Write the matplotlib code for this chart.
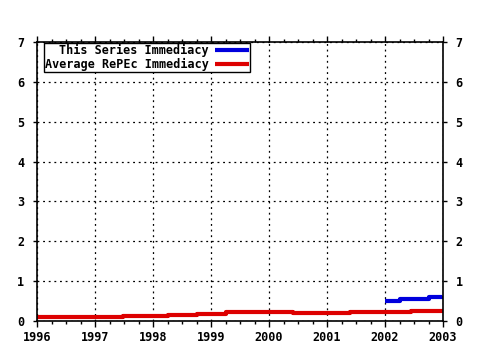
import matplotlib
matplotlib.use("Agg")
import matplotlib.pyplot as plt
from matplotlib.ticker import MultipleLocator

plt.rcParams['font.family'] = ['DejaVu Sans Mono']
plt.rcParams['font.weight'] = 'bold'

# Average RePEc immediacy (step changes through the period)
avg_x = [1996.0, 1997.48, 1998.26, 1998.76, 1999.26, 2000.41, 2001.4, 2002.45, 2003.0]
avg_y = [0.09, 0.12, 0.15, 0.18, 0.22, 0.19, 0.23, 0.26, 0.26]

# This series immediacy (available from 2002)
ser_x = [2002.0, 2002.25, 2002.5, 2002.75, 2003.0]
ser_y = [0.51, 0.54, 0.56, 0.59, 0.62]

year_ticks = [1996, 1997, 1998, 1999, 2000, 2001, 2002, 2003]
y_ticks = [0, 1, 2, 3, 4, 5, 6, 7]

fig = plt.figure(figsize=(4.8, 3.5), dpi=100)
ax = fig.add_axes([37/480, 29/350, 406/480, 279/350])

ax.step(ser_x, ser_y, where='post', color='#0000dd', lw=3,
        label='This Series Immediacy', solid_capstyle='butt')
ax.step(avg_x, avg_y, where='post', color='#dd0000', lw=3,
        label='Average RePEc Immediacy', solid_capstyle='butt')

ax.set_xlim(1996, 2003)
ax.set_ylim(0, 7)
ax.set_xticks(year_ticks)
ax.set_xticklabels([str(y) for y in year_ticks])
ax.set_yticks(y_ticks)
ax.xaxis.set_minor_locator(MultipleLocator(0.25))

ax.grid(True, which='major', color='black', linestyle=(0, (1.5, 3)), lw=0.9)
for s in ax.spines.values():
    s.set_color('black')
    s.set_linewidth(1.2)

ax.tick_params(axis='x', which='major', direction='out', length=4, width=1,
               top=True, labelsize=8.5, pad=3)
ax.tick_params(axis='x', which='minor', direction='out', length=2.5, width=1,
               top=True)
ax.tick_params(axis='y', which='major', direction='out', length=3, width=1,
               left=True, right=True, labelleft=True, labelright=True,
               labelsize=8.5, pad=6)
for lab in ax.get_xticklabels() + ax.get_yticklabels():
    lab.set_fontweight('bold')

leg = ax.legend(loc='upper left', bbox_to_anchor=(7/406, 278/279),
                markerfirst=False, frameon=True,
                fancybox=False, framealpha=1, edgecolor='black',
                borderaxespad=0, borderpad=0.1, handlelength=2.9,
                handletextpad=0.5, labelspacing=0.05,
                prop={'size': 8.5, 'weight': 'bold', 'family': 'DejaVu Sans Mono'})
leg.get_frame().set_linewidth(1.0)

fig.savefig('out.png', dpi=100)
